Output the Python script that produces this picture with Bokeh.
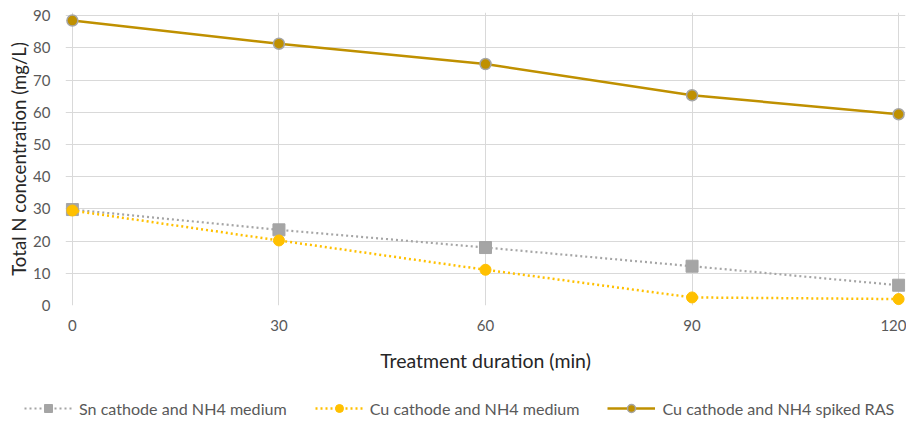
from bokeh.plotting import figure
from bokeh.models import Range1d, FixedTicker, Legend, LegendItem
from bokeh.layouts import column, row
from bokeh.embed import file_html
from bokeh.resources import INLINE

# Data
minutes = [0, 30, 60, 90, 120]
sn_nh4 = [29.8, 23.5, 18.0, 12.2, 6.3]
cu_nh4 = [29.5, 20.2, 11.1, 2.5, 2.0]
cu_ras = [88.5, 81.3, 75.0, 65.3, 59.4]
series_names = ["Sn cathode and NH4 medium", "Cu cathode and NH4 medium", "Cu cathode and NH4 spiked RAS"]
x_ticks = [0, 30, 60, 90, 120]
y_ticks = [0, 10, 20, 30, 40, 50, 60, 70, 80, 90]

FONT = "Lato"
GRID = "#d9d9d9"

SERIES = [
    dict(y=sn_nh4, color="#a5a5a5", dash="2 3", lw=2.2, marker="square", size=12, mline="#a5a5a5", mlw=1),
    dict(y=cu_nh4, color="#ffc000", dash="2 3", lw=2.5, marker="circle", size=11, mline="#ffc000", mlw=1),
    dict(y=cu_ras, color="#bf9000", dash="solid", lw=2.5, marker="circle", size=11, mline="#a5a5a5", mlw=1.5),
]

p = figure(width=906, height=380, output_backend="svg", toolbar_location=None,
           x_range=Range1d(-1, 121), y_range=Range1d(0, 91),
           min_border_left=65, min_border_right=1, min_border_top=12, min_border_bottom=75)
p.outline_line_color = None

p.xgrid.ticker = FixedTicker(ticks=x_ticks)
p.ygrid.ticker = FixedTicker(ticks=y_ticks)
p.xgrid.grid_line_color = GRID
p.ygrid.grid_line_color = GRID
p.xgrid.bounds = (0, 90)
p.ygrid.bounds = (0, 120)

p.xaxis.ticker = FixedTicker(ticks=x_ticks)
p.yaxis.ticker = FixedTicker(ticks=y_ticks)
for ax in (p.xaxis, p.yaxis):
    ax.axis_line_color = None
    ax.major_tick_line_color = None
    ax.minor_tick_line_color = None
    ax.major_label_text_font = FONT
    ax.major_label_text_font_size = "15px"
    ax.major_label_text_color = "#595959"
    ax.axis_label_text_font = FONT
    ax.axis_label_text_font_style = "normal"
    ax.axis_label_text_color = "#262626"
p.xaxis.axis_label = "Treatment duration (min)"
p.yaxis.axis_label = "Total N concentration (mg/L)"
p.xaxis.axis_label_text_font_size = "19.5px"
p.yaxis.axis_label_text_font_size = "18.6px"
p.xaxis.major_label_standoff = 8
p.xaxis.axis_label_standoff = 15
p.yaxis.major_label_standoff = 9
p.yaxis.axis_label_standoff = 0

for s in SERIES:
    p.line(minutes, s["y"], line_color=s["color"], line_width=s["lw"], line_dash=s["dash"])
    p.scatter(minutes, s["y"], marker=s["marker"], size=s["size"], fill_color=s["color"],
              line_color=s["mline"], line_width=s["mlw"])

# Legend strip below the chart (same series styles, renderers hidden)
lf = figure(width=906, height=45, output_backend="svg", toolbar_location=None,
            x_range=Range1d(-1, 121), y_range=Range1d(0, 91),
            x_axis_location=None, y_axis_location=None,
            min_border_left=0, min_border_right=0, min_border_top=0, min_border_bottom=0)
lf.grid.visible = False
lf.outline_line_color = None
items = []
for name, s in zip(series_names, SERIES):
    lr = lf.line(minutes, s["y"], line_color=s["color"], line_width=s["lw"], line_dash=s["dash"])
    mr = lf.scatter(minutes, s["y"], marker=s["marker"], size=s["size"] - 1, fill_color=s["color"],
                    line_color=s["mline"], line_width=s["mlw"])
    lr.visible = False
    mr.visible = False
    items.append(LegendItem(label=name, renderers=[lr, mr]))

legend = Legend(items=items, orientation="horizontal", location=(24, 7))
legend.label_text_font = FONT
legend.label_text_font_size = "16.1px"
legend.label_text_color = "#595959"
legend.glyph_width = 48
legend.label_standoff = 7
legend.spacing = 28
legend.padding = 0
legend.margin = 0
legend.border_line_color = None
legend.background_fill_alpha = 0
lf.add_layout(legend, "center")

layout = column(p, row(lf, spacing=0), spacing=0)
open("out.html", "w").write(file_html(layout, INLINE))
